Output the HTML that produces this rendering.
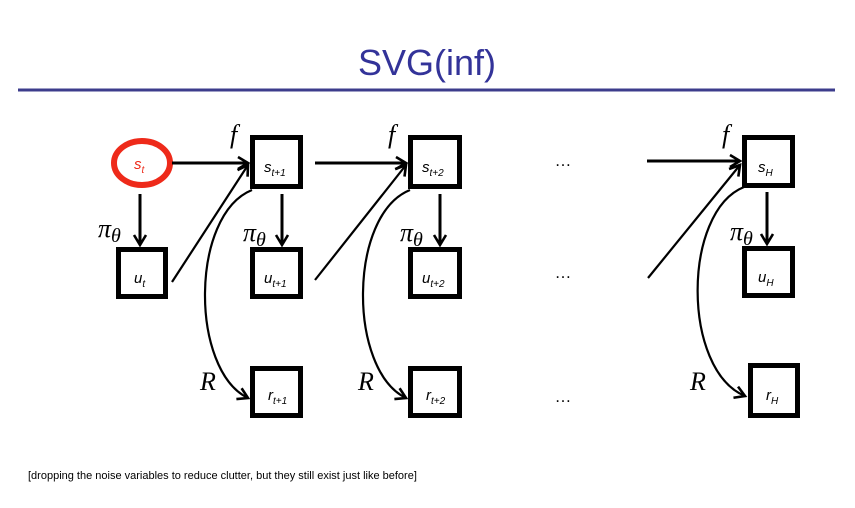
<!DOCTYPE html>
<html><head><meta charset="utf-8"><style>
html,body{margin:0;padding:0;background:#fff;width:855px;height:508px;overflow:hidden}
svg{display:block}
</style></head><body>
<svg width="855" height="508" viewBox="0 0 855 508" xmlns="http://www.w3.org/2000/svg">
<defs>
<marker id="a" viewBox="0 0 12 14" refX="11" refY="7" markerWidth="12" markerHeight="14" orient="auto" markerUnits="userSpaceOnUse" style="overflow:visible">
<path d="M1,1 L11,7 L1,13" fill="none" stroke="#000" stroke-width="2.6"/>
</marker>
</defs>
<text x="427" y="75" text-anchor="middle" font-family="Liberation Sans, sans-serif" font-size="36" fill="#333399">SVG(inf)</text>
<rect x="18" y="88.5" width="817" height="3" fill="#3c3c8c"/>

<g stroke="#000" stroke-width="5" fill="#fff">
<rect x="252.5" y="137.5" width="48" height="49"/>
<rect x="410.5" y="137.5" width="49" height="49"/>
<rect x="744.5" y="137.5" width="48" height="48"/>
<rect x="118.5" y="249.5" width="47" height="47"/>
<rect x="252.5" y="249.5" width="48" height="47"/>
<rect x="410.5" y="249.5" width="49" height="47"/>
<rect x="744.5" y="248.5" width="48" height="47"/>
<rect x="252.5" y="368.5" width="48" height="47"/>
<rect x="410.5" y="368.5" width="49" height="47"/>
<rect x="750.5" y="365.5" width="47" height="50"/>
</g>
<ellipse cx="142" cy="163" rx="28" ry="22" fill="#fff" stroke="#ee2a1a" stroke-width="6"/>

<g stroke="#000" stroke-width="3" fill="none">
<line x1="172" y1="163" x2="248" y2="163" marker-end="url(#a)"/>
<line x1="315" y1="163" x2="406" y2="163" marker-end="url(#a)"/>
<line x1="647" y1="161" x2="740" y2="161" marker-end="url(#a)"/>
<line x1="140" y1="194" x2="140" y2="245" marker-end="url(#a)"/>
<line x1="282" y1="194" x2="282" y2="245" marker-end="url(#a)"/>
<line x1="440" y1="194" x2="440" y2="245" marker-end="url(#a)"/>
<line x1="767" y1="192" x2="767" y2="244" marker-end="url(#a)"/>
</g>
<g stroke="#000" stroke-width="2.2" fill="none">
<line x1="172" y1="282" x2="248" y2="165" marker-end="url(#a)"/>
<line x1="315" y1="280" x2="406" y2="165" marker-end="url(#a)"/>
<line x1="648" y1="278" x2="740" y2="165" marker-end="url(#a)"/>
<path d="M252,190 C190,215 190,370 248,398" marker-end="url(#a)"/>
<path d="M410,190 C348,215 348,370 406,398" marker-end="url(#a)"/>
<path d="M744,187 C682,212 682,370 745,396" marker-end="url(#a)"/>
</g>

<g font-family="Liberation Serif, serif" font-style="italic" font-size="26" fill="#000">
<text x="230" y="143">f</text>
<text x="388" y="143">f</text>
<text x="722" y="143">f</text>
<text x="200" y="390">R</text>
<text x="358" y="390">R</text>
<text x="690" y="390">R</text>
</g>
<g font-family="Liberation Serif, serif" font-style="italic" fill="#000">
<text x="98" y="237" font-size="26">π<tspan font-size="20" dy="5">θ</tspan></text>
<text x="243" y="241" font-size="26">π<tspan font-size="20" dy="5">θ</tspan></text>
<text x="400" y="241" font-size="26">π<tspan font-size="20" dy="5">θ</tspan></text>
<text x="730" y="240" font-size="26">π<tspan font-size="20" dy="5">θ</tspan></text>
</g>

<g font-family="Liberation Sans, sans-serif" font-style="italic" font-size="15" fill="#000">
<text x="134" y="169" fill="#ee2a1a">s<tspan font-size="10" dy="4">t</tspan></text>
<text x="264" y="172">s<tspan font-size="10" dy="4">t+1</tspan></text>
<text x="422" y="172">s<tspan font-size="10" dy="4">t+2</tspan></text>
<text x="758" y="172">s<tspan font-size="10" dy="4">H</tspan></text>
<text x="134" y="283">u<tspan font-size="10" dy="4">t</tspan></text>
<text x="264" y="283">u<tspan font-size="10" dy="4">t+1</tspan></text>
<text x="422" y="283">u<tspan font-size="10" dy="4">t+2</tspan></text>
<text x="758" y="282">u<tspan font-size="10" dy="4">H</tspan></text>
<text x="268" y="400">r<tspan font-size="10" dy="4">t+1</tspan></text>
<text x="426" y="400">r<tspan font-size="10" dy="4">t+2</tspan></text>
<text x="766" y="400">r<tspan font-size="10" dy="4">H</tspan></text>
</g>
<g font-family="Liberation Serif, serif" font-size="16" fill="#000">
<text x="555" y="166">…</text>
<text x="555" y="278">…</text>
<text x="555" y="402">…</text>
</g>
<text x="28" y="479" font-family="Liberation Sans, sans-serif" font-size="11" fill="#000">[dropping the noise variables to reduce clutter, but they still exist just like before]</text>
</svg>
</body></html>
